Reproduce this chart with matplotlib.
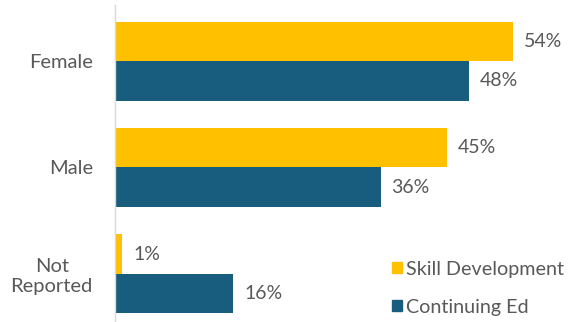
import matplotlib.pyplot as plt
import numpy as np
from matplotlib.patches import Patch

# Доли по группам, %
groups = ["Female", "Male", "Not\nReported"]
skill_dev = [54, 45, 1]
continuing_ed = [48, 36, 16]
series_names = ["Skill Development", "Continuing Ed"]

YELLOW = "#FFC000"
BLUE = "#185D7E"
GREY = "#595959"

plt.rcParams["font.family"] = ["Lato", "DejaVu Sans"]

fig = plt.figure(figsize=(5.76, 3.22), dpi=100)
# Оси в долях фигуры: левая граница x=115 px, сверху 5 px
ax = fig.add_axes([115 / 576, 0, 442.5 / 576, 317 / 322])

y = np.arange(len(groups))
h = 0.371
bars1 = ax.barh(y - h / 2, skill_dev, height=h, color=YELLOW)
bars2 = ax.barh(y + h / 2, continuing_ed, height=h, color=BLUE)

for bars, vals in ((bars1, skill_dev), (bars2, continuing_ed)):
    for b, v in zip(bars, vals):
        ax.text(v + 1.5, b.get_y() + b.get_height() / 2, f"{v}%",
                va="center", ha="left", fontsize=14, color=GREY)

ax.set_xlim(0, 60)
ax.set_ylim(2.451, -0.526)
ax.set_yticks(y)
ax.set_yticklabels(groups, fontsize=14.5, color=GREY, multialignment="center",
                   linespacing=1.2)
ax.tick_params(axis="y", length=0, pad=16)
ax.set_xticks([])

for s in ("top", "right", "bottom"):
    ax.spines[s].set_visible(False)
ax.spines["left"].set_color("#D9D9D9")
ax.spines["left"].set_linewidth(1.0)

handles = [Patch(color=YELLOW), Patch(color=BLUE)]
fig.legend(handles, series_names, loc="lower left",
           bbox_to_anchor=(374 / 576, -0.035), frameon=False,
           fontsize=14.2, labelcolor=GREY, handlelength=0.5, handleheight=0.5,
           handletextpad=0.2, labelspacing=1.05)

fig.savefig("out.png", dpi=100)
